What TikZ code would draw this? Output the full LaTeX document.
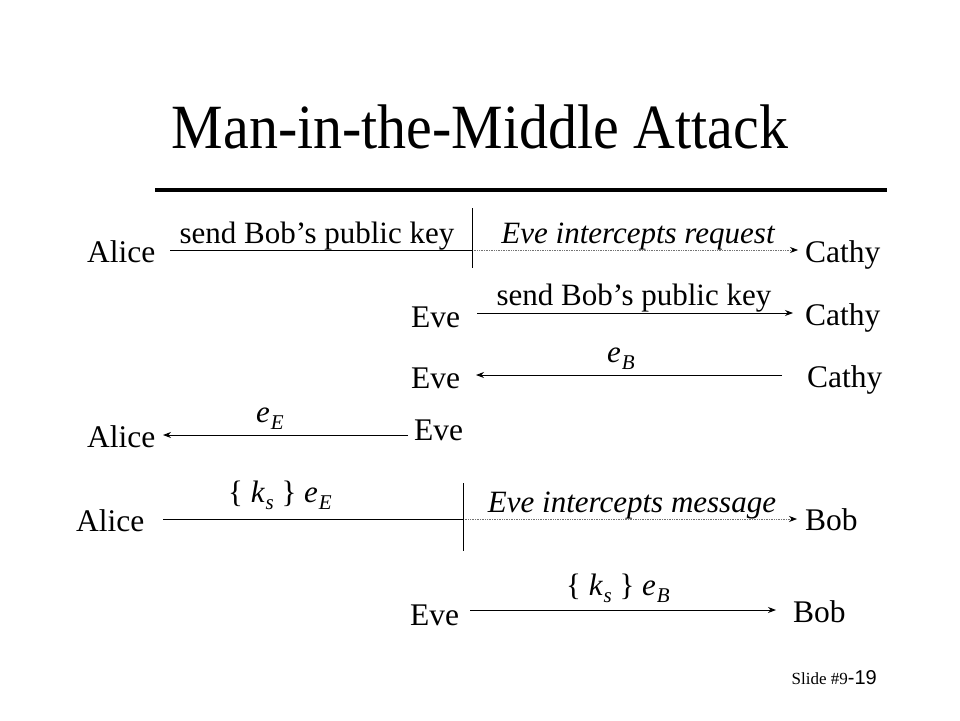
\documentclass[tikz,border=0pt]{standalone}
\usepackage{fontspec}
\setmainfont{Liberation Serif}
\newfontfamily\sansf{Liberation Sans}
\usetikzlibrary{arrows.meta}
\newcommand\mysub[1]{\kern1pt\raisebox{-0.55ex}{\fontsize{21}{21}\selectfont\itshape #1}}
\begin{document}
\begin{tikzpicture}[x=1pt,y=-1pt,
  lbl/.style={inner sep=0pt, anchor=base west, font=\fontsize{31.5}{31.5}\selectfont},
  msg/.style={inner sep=0pt, anchor=base, font=\fontsize{31}{31}\selectfont},
  tip/.style={-{Stealth[length=8pt,width=6pt,color=black]}},
  arr/.style={tip, line width=0.9pt},
  plainln/.style={line width=0.9pt},
  dotln/.style={tip, densely dotted, black!55, line width=0.7pt}
]
\useasboundingbox (0,0) rectangle (960,720);
% title
\node[inner sep=0pt, anchor=base, font=\fontsize{63}{63}\selectfont] (title) at (480,148) {\scalebox{0.92}[1]{Man-in-the-Middle Attack}};
\coordinate (rl) at (155,190);
\coordinate (rr) at (887,190);
\draw[line width=4pt] (rl) -- (rr);

% row 1
\node[lbl] (alice1) at (87,262) {Alice};
\node[lbl] (cathy1) at (805,262) {Cathy};
\coordinate (s1) at (170,250);
\coordinate (m1) at (472,250);
\coordinate (e1) at (798,250);
\coordinate (t1) at (472,208);
\coordinate (b1) at (472,268);
\draw[plainln] (s1) -- (m1);
\draw[dotln] (m1) -- (e1);
\draw[plainln] (t1) -- (b1);
\node[msg] (l1) at (317,243) {send Bob’s public key};
\node[msg] (l1b) at (638,243) {\itshape Eve intercepts request};

% row 2
\node[lbl] (eve2) at (411,327) {Eve};
\node[lbl] (cathy2) at (805,325) {Cathy};
\coordinate (s2) at (477,313);
\coordinate (e2) at (793,313);
\draw[arr] (s2) -- (e2);
\node[msg] (l2) at (634,305) {send Bob’s public key};

% row 3
\node[lbl] (eve3) at (411,388) {Eve};
\node[lbl] (cathy3) at (807,387) {Cathy};
\coordinate (s3) at (782,375);
\coordinate (e3) at (476,375);
\draw[arr] (s3) -- (e3);
\node[msg] (l3) at (621,362) {\itshape e\mysub{B}};

% row 4
\node[lbl] (alice4) at (87,447) {Alice};
\node[lbl] (eve4) at (414,440) {Eve};
\coordinate (s4) at (408,435);
\coordinate (e4) at (163,435);
\draw[arr] (s4) -- (e4);
\node[msg] (l4) at (270,422) {\itshape e\mysub{E}};

% row 5
\node[lbl] (alice5) at (76,531) {Alice};
\node[lbl] (bob5) at (805,530) {Bob};
\coordinate (s5) at (163,519);
\coordinate (m5) at (463,519);
\coordinate (e5) at (797,519);
\coordinate (t5) at (463,483);
\coordinate (b5) at (463,551);
\draw[plainln] (s5) -- (m5);
\draw[dotln] (m5) -- (e5);
\draw[plainln] (t5) -- (b5);
\node[msg] (l5) at (280,502) {\{ {\itshape k}\mysub{s} \} {\itshape e}\mysub{E}};
\node[msg] (l5b) at (632,512) {\itshape Eve intercepts message};

% row 6
\node[lbl] (eve6) at (410,625) {Eve};
\node[lbl] (bob6) at (793,622) {Bob};
\coordinate (s6) at (470,610);
\coordinate (e6) at (776,610);
\draw[arr] (s6) -- (e6);
\node[msg] (l6) at (618,595) {\{ {\itshape k}\mysub{s} \} {\itshape e}\mysub{B}};

% slide number
\node[inner sep=0pt, anchor=base east] (slide) at (877,684) {{\fontsize{17}{17}\selectfont Slide \#9}{\sansf\fontsize{20}{20}\selectfont -19}};
\end{tikzpicture}
\end{document}
